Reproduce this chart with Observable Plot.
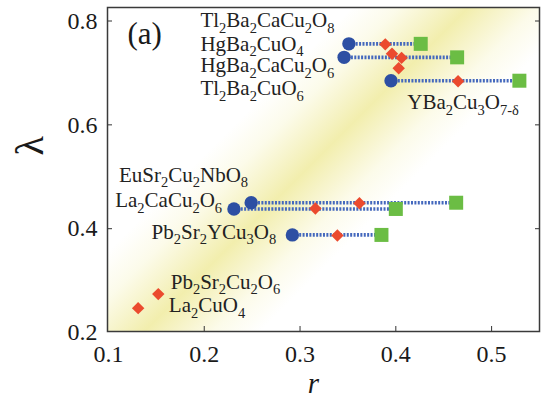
<!DOCTYPE html>
<html><head><meta charset="utf-8">
<script src="https://cdn.jsdelivr.net/npm/d3@7"></script>
<script src="https://cdn.jsdelivr.net/npm/@observablehq/plot@0.6"></script>
<style>html,body{margin:0;padding:0;background:#fff}#chart{width:542px;height:405px}
#chart svg, #chart svg text{font-family:"Liberation Serif","DejaVu Serif",serif !important}</style>
</head><body><div id="chart"></div>
<script>
// ---- data ----
const xTicks = [0.1, 0.2, 0.3, 0.4, 0.5];
const yTicks = [0.2, 0.4, 0.6, 0.8];

// dotted ranges: circle (start) -> square (end)
const rangeStartR = [0.351, 0.346, 0.395, 0.249, 0.231, 0.292];
const rangeEndR   = [0.426, 0.464, 0.529, 0.463, 0.400, 0.385];
const rangeLambda = [0.756, 0.730, 0.685, 0.450, 0.438, 0.388];

// red diamonds
const diamondR      = [0.389, 0.396, 0.406, 0.403, 0.465, 0.362, 0.316, 0.339, 0.152, 0.131];
const diamondLambda = [0.755, 0.737, 0.729, 0.709, 0.684, 0.449, 0.439, 0.387, 0.274, 0.247];

// compound labels (anchor in data units, text starts here on its baseline)
const compoundNames  = ["Tl_2Ba_2CaCu_2O_8", "HgBa_2CuO_4", "HgBa_2CaCu_2O_6", "Tl_2Ba_2CuO_6", "YBa_2Cu_3O_{7-δ}",
                        "EuSr_2Cu_2NbO_8", "La_2CaCu_2O_6", "Pb_2Sr_2YCu_3O_8", "Pb_2Sr_2Cu_2O_6", "La_2CuO_4"];
const compoundR      = [0.196, 0.196, 0.196, 0.196, 0.412, 0.111, 0.107, 0.145, 0.165, 0.163];
const compoundLambda = [0.788, 0.743, 0.701, 0.657, 0.630, 0.490, 0.441, 0.381, 0.284, 0.239];

const panelLabel = "(a)";
const xTitle = "r";
const yTitle = "λ";

// ---- tables ----
const ranges = rangeStartR.map((r, i) => ({r1: r, r2: rangeEndR[i], lambda: rangeLambda[i]}));
const diamonds = diamondR.map((r, i) => ({r, lambda: diamondLambda[i]}));
const compounds = compoundNames.map((name, i) => ({name, r: compoundR[i], lambda: compoundLambda[i]}));

const W = 542, H = 405, mL = 107, mR = 3, mT = 7, mB = 74;
const serif = "Liberation Serif";

const plot = Plot.plot({
  width: W, height: H,
  marginLeft: mL, marginRight: mR, marginTop: mT, marginBottom: mB,
  style: {fontFamily: serif, fontSize: "24px", color: "#1a1a1a", background: "#fff", overflow: "visible"},
  x: {domain: [0.099, 0.550], label: null},
  y: {domain: [0.202, 0.826], label: null},
  marks: [
    Plot.frame({fill: "url(#band)", stroke: "none"}),
    Plot.link(ranges, {x1: "r1", x2: "r2", y1: "lambda", y2: "lambda",
      stroke: "#4468bd", strokeWidth: 3.6, strokeDasharray: "2,1.4"}),
    Plot.dot(ranges, {x: "r2", y: "lambda", symbol: "square", r: 7.9, fill: "#6bbd44", stroke: "none"}),
    Plot.dot(ranges, {x: "r1", y: "lambda", symbol: "circle", r: 6.7, fill: "#2d4fa3", stroke: "none"}),
    Plot.dot(diamonds, {x: "r", y: "lambda", symbol: "diamond2", r: 5.6, fill: "#eb4a2e", stroke: "none"}),
    Plot.text(compounds, {x: "r", y: "lambda", text: "name", textAnchor: "start", lineAnchor: "bottom",
      fontSize: 21, fontFamily: serif, fill: "#222"}),
    Plot.text([panelLabel], {text: d => d, frameAnchor: "top-left", dx: 20, dy: 36, fontFamily: serif,
      textAnchor: "start", lineAnchor: "bottom", fontSize: 31, fill: "#1a1a1a"}),
    Plot.text([yTitle], {text: d => d, frameAnchor: "left", dx: -77, dy: -14, rotate: -90, fontFamily: serif,
      fontSize: 40, fill: "#1a1a1a"}),
    Plot.text([xTitle], {text: d => d, frameAnchor: "bottom", dx: -10, dy: 61, fontFamily: serif,
      lineAnchor: "bottom", fontSize: 29, fontStyle: "italic", fill: "#1a1a1a"}),
    Plot.axisX({ticks: xTicks, tickSize: 0, tickPadding: 13, fontSize: 24, label: null, fontFamily: serif,
      tickFormat: d => d.toFixed(1)}),
    Plot.axisX({ticks: xTicks.slice(1), tickSize: -5, tickFormat: () => "", label: null, stroke: "#333"}),
    Plot.axisY({ticks: yTicks, tickSize: 0, tickPadding: 10, fontSize: 24, label: null, fontFamily: serif,
      tickFormat: d => d.toFixed(1)}),
    Plot.axisY({ticks: yTicks.slice(1), tickSize: -5, tickFormat: () => "", label: null, stroke: "#333"}),
    Plot.axisY({anchor: "right", ticks: yTicks.slice(1), tickSize: -5, tickFormat: () => "", label: null, stroke: "#333"}),
    Plot.frame({stroke: "#3a3a3a", strokeWidth: 1.5})
  ]
});

const ns = "http://www.w3.org/2000/svg";
const svg = plot.tagName.toLowerCase() === "svg" ? plot : plot.querySelector("svg");
svg.style.fontFamily = '"Liberation Serif", "DejaVu Serif", serif';

// background band gradient (perpendicular to the lower-left -> upper-right diagonal)
const cx = mL + 0.46 * (W - mL - mR), cy = mT + 0.5 * (H - mT - mB), d = 58;
const defs = document.createElementNS(ns, "defs");
defs.innerHTML = `<linearGradient id="band" gradientUnits="userSpaceOnUse" x1="${cx - d}" y1="${cy - d}" x2="${cx + d}" y2="${cy + d}">
  <stop offset="0" stop-color="#ffffff"/>
  <stop offset="0.2" stop-color="#fcfbea"/>
  <stop offset="0.38" stop-color="#f6f3c6"/>
  <stop offset="0.5" stop-color="#f2eead"/>
  <stop offset="0.62" stop-color="#f6f3c6"/>
  <stop offset="0.8" stop-color="#fcfbea"/>
  <stop offset="1" stop-color="#ffffff"/>
</linearGradient>`;
svg.insertBefore(defs, svg.firstChild);

// chemical subscripts
svg.querySelectorAll("text").forEach(t => {
  const s = t.textContent;
  if (!s.includes("_")) return;
  t.textContent = "";
  const re = /_\{([^}]*)\}|_(.)/g;
  const parts = [];
  let last = 0, m;
  while ((m = re.exec(s))) {
    if (m.index > last) parts.push([s.slice(last, m.index), false]);
    parts.push([m[1] !== undefined ? m[1] : m[2], true]);
    last = re.lastIndex;
  }
  if (last < s.length) parts.push([s.slice(last), false]);
  let shifted = false;
  for (const [txt, isSub] of parts) {
    const ts = document.createElementNS(ns, "tspan");
    ts.textContent = txt;
    if (isSub) {
      ts.setAttribute("font-size", "14.5");
      if (!shifted) { ts.setAttribute("dy", "5.5"); shifted = true; }
    } else if (shifted) {
      ts.setAttribute("dy", "-5.5"); shifted = false;
    }
    t.appendChild(ts);
  }
});

document.getElementById("chart").appendChild(plot);
</script>
</body></html>
